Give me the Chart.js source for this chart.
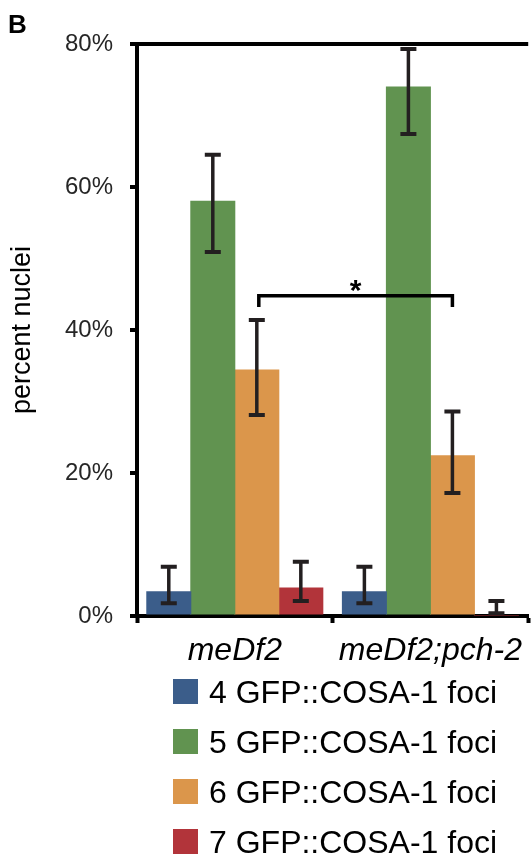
<!DOCTYPE html>
<html>
<head>
<meta charset="utf-8">
<script src="https://cdn.jsdelivr.net/npm/chart.js@4.4.0/dist/chart.umd.min.js"></script>
<style>
  html, body { margin: 0; padding: 0; background: #ffffff; }
  #wrap { position: relative; width: 531px; height: 862px; }
</style>
</head>
<body>
<div id="wrap"><canvas id="c"></canvas></div>
<script>
// ---- data ----
const categories = ['meDf2', 'meDf2;pch-2'];
const seriesLabels = ['4 GFP::COSA-1 foci', '5 GFP::COSA-1 foci', '6 GFP::COSA-1 foci', '7 GFP::COSA-1 foci'];
const seriesColors = ['#3b5d8a', '#619350', '#db964b', '#b2343a'];

const foci4 = [3.4, 3.4];
const foci4Low = [1.8, 1.8];
const foci4High = [6.9, 6.9];

const foci5 = [58.0, 74.0];
const foci5Low = [50.9, 67.4];
const foci5High = [64.5, 79.3];

const foci6 = [34.4, 22.4];
const foci6Low = [28.1, 17.2];
const foci6High = [41.4, 28.6];

const foci7 = [3.9, 0];
const foci7Low = [2.1, 0.4];
const foci7High = [7.6, 2.1];

const yTickLabels = ['0%', '20%', '40%', '60%', '80%'];
const yTickValues = [0, 20, 40, 60, 80];

// significance bracket between "6 foci" bars of both genotypes
const sigSeries = 2;
const sigTop = 44.8;
const sigDrop = 43.2;
const sigText = '*';

const panelLabel = 'B';
const yTitle = 'percent nuclei';

const values = [foci4, foci5, foci6, foci7];
const lows = [foci4Low, foci5Low, foci6Low, foci7Low];
const highs = [foci4High, foci5High, foci6High, foci7High];

const FONT = "'Liberation Sans', Arial, Helvetica, sans-serif";
Chart.defaults.font.family = FONT;

const errorBarPlugin = {
  id: 'errorBars',
  afterDatasetsDraw(chart) {
    const ctx = chart.ctx;
    const y = chart.scales.y;
    ctx.save();
    ctx.strokeStyle = '#231f20';
    ctx.lineCap = 'butt';
    chart.data.datasets.forEach((ds, di) => {
      const meta = chart.getDatasetMeta(di);
      meta.data.forEach((bar, i) => {
        const x = bar.x;
        const yl = y.getPixelForValue(lows[di][i]);
        const yh = y.getPixelForValue(highs[di][i]);
        ctx.lineWidth = 3.5;
        ctx.beginPath();
        ctx.moveTo(x, yl);
        ctx.lineTo(x, yh);
        ctx.stroke();
        ctx.lineWidth = 4;
        ctx.beginPath();
        ctx.moveTo(x - 8, yl); ctx.lineTo(x + 8, yl);
        ctx.moveTo(x - 8, yh); ctx.lineTo(x + 8, yh);
        ctx.stroke();
      });
    });
    // significance bracket
    const meta = chart.getDatasetMeta(sigSeries);
    const x1 = meta.data[0].x + 2;
    const x2 = meta.data[1].x;
    const yt = y.getPixelForValue(sigTop);
    const yd = y.getPixelForValue(sigDrop);
    ctx.strokeStyle = '#000';
    ctx.lineWidth = 3.5;
    ctx.lineJoin = 'miter';
    ctx.beginPath();
    ctx.moveTo(x1, yd);
    ctx.lineTo(x1, yt);
    ctx.lineTo(x2, yt);
    ctx.lineTo(x2, yd);
    ctx.stroke();
    ctx.fillStyle = '#000';
    ctx.font = 'bold 30px ' + FONT;
    ctx.textAlign = 'center';
    ctx.textBaseline = 'alphabetic';
    ctx.fillText(sigText, (x1 + x2) / 2, yt + 4);
    ctx.restore();
  }
};

const decorPlugin = {
  id: 'decor',
  afterDraw(chart) {
    const ctx = chart.ctx;
    ctx.save();
    // panel label
    ctx.fillStyle = '#000';
    ctx.font = 'bold 26px ' + FONT;
    ctx.textAlign = 'left';
    ctx.textBaseline = 'alphabetic';
    ctx.fillText(panelLabel, 8, 33);
    // legend
    chart.data.datasets.forEach((ds, i) => {
      const top = 679 + 50 * i;
      ctx.fillStyle = ds.backgroundColor;
      ctx.fillRect(173, top, 25, 25);
      ctx.fillStyle = '#000';
      ctx.font = '32px ' + FONT;
      ctx.fillText(ds.label, 209, top + 24);
    });
    ctx.restore();
  }
};

new Chart(document.getElementById('c'), {
  type: 'bar',
  data: {
    labels: categories,
    datasets: values.map((v, i) => ({
      label: seriesLabels[i],
      data: v,
      backgroundColor: seriesColors[i],
      borderWidth: 0,
      inflateAmount: 0.5,
      categoryPercentage: 0.9,
      barPercentage: 1.0
    }))
  },
  options: {
    responsive: true,
    maintainAspectRatio: false,
    animation: false,
    layout: { padding: { top: 44, left: 0, right: 0, bottom: 0 } },
    plugins: {
      legend: { display: false },
      tooltip: { enabled: false },
      title: { display: false }
    },
    scales: {
      x: {
        afterFit(scale) { scale.height = 246; },
        grid: {
          display: true,
          offset: true,
          drawOnChartArea: false,
          color: 'rgba(0,0,0,0)',
          tickColor: '#000',
          tickLength: 7,
          tickWidth: 4
        },
        border: { display: true, color: '#000', width: 4 },
        ticks: {
          color: '#000',
          padding: 9,
          font: { size: 32, style: 'italic', family: FONT }
        }
      },
      y: {
        min: 0,
        max: 80,
        afterFit(scale) { scale.width = 137; },
        afterBuildTicks(scale) { scale.ticks = yTickValues.map(v => ({ value: v })); },
        grid: {
          display: true,
          drawOnChartArea: true,
          color: (c) => (c.tick && c.tick.value === 80 ? '#000' : 'rgba(0,0,0,0)'),
          lineWidth: 4,
          tickColor: '#000',
          tickLength: 7,
          tickWidth: 4
        },
        border: { display: true, color: '#000', width: 4 },
        ticks: {
          color: '#262626',
          padding: 17,
          font: { size: 24, family: FONT },
          callback: (v) => yTickLabels[yTickValues.indexOf(v)]
        },
        title: {
          display: true,
          text: yTitle,
          color: '#000',
          font: { size: 27, family: FONT },
          padding: { top: 6, bottom: 0 }
        }
      }
    }
  },
  plugins: [errorBarPlugin, decorPlugin]
});
</script>
</body>
</html>
